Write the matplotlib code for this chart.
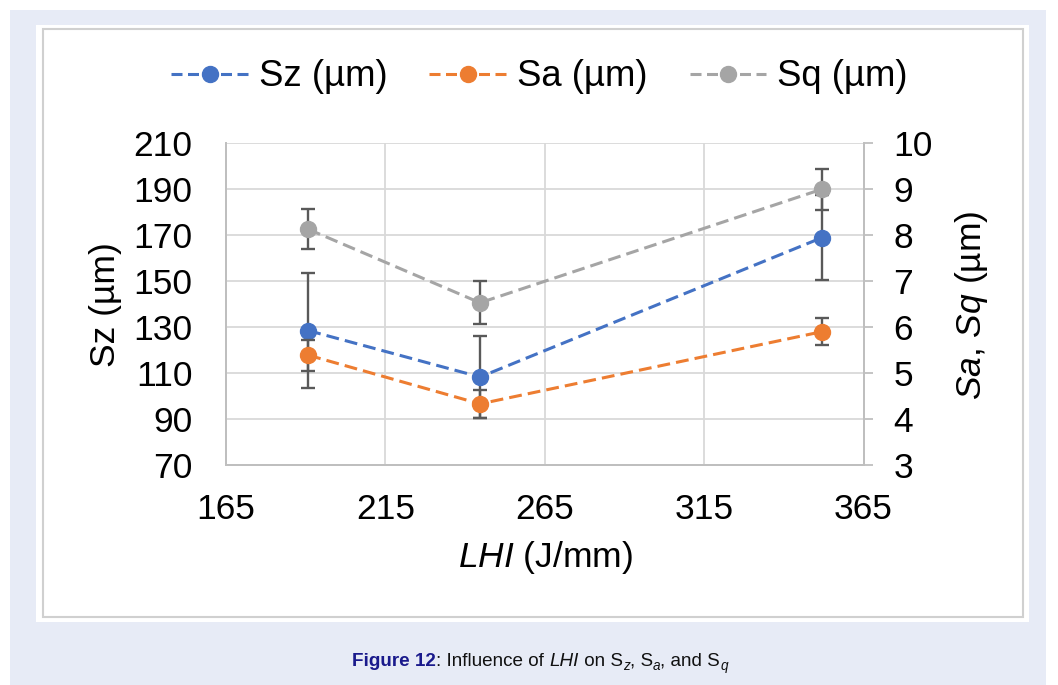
import matplotlib
matplotlib.use("Agg")
import matplotlib.pyplot as plt
from matplotlib.patches import Rectangle
from matplotlib.lines import Line2D
from matplotlib.transforms import IdentityTransform
from matplotlib import font_manager

# ---------------- data ----------------
lhi = [190.8, 244.7, 351.9]
sz = [128.5, 108.3, 168.9]
sz_err = [24.9, 17.8, 18.4]
sa = [5.39, 4.33, 5.90]
sa_err = [0.34, 0.30, 0.29]
sq = [8.13, 6.53, 9.00]
sq_err = [0.44, 0.47, 0.45]
series_names = ["Sz (µm)", "Sa (µm)", "Sq (µm)"]
x_ticks = [165, 215, 265, 315, 365]
left_ticks = [70, 90, 110, 130, 150, 170, 190, 210]
right_ticks = [3, 4, 5, 6, 7, 8, 9, 10]

# ---------------- style ----------------
FONT = "Liberation Sans"
names = {f.name for f in font_manager.fontManager.ttflist}
CAP_FONT = "Liberation Sans Narrow" if "Liberation Sans Narrow" in names else FONT
plt.rcParams["font.family"] = [FONT, "DejaVu Sans"]
plt.rcParams["mathtext.fontset"] = "custom"
plt.rcParams["mathtext.rm"] = FONT
plt.rcParams["mathtext.it"] = FONT + ":italic"
plt.rcParams["mathtext.bf"] = FONT + ":bold"

BLUE = "#4472C4"
ORANGE = "#ED7D31"
GRAY = "#A5A5A5"
ERR = "#595959"
GRID = "#D9D9D9"
SPINE = "#BFBFBF"
FS = 25.5
LFS = 26.3

W, H = 1058, 685
fig = plt.figure(figsize=(W / 100, H / 100), dpi=100)
fig.patch.set_facecolor("white")

def px_rect(x0, y0, x1, y1, **kw):
    # image coords (top-left origin) -> display pixels
    return Rectangle((x0, H - y1), x1 - x0, y1 - y0, transform=IdentityTransform(), **kw)

fig.patches.append(px_rect(10, 10, 1046, 686, facecolor="#E7EBF6", edgecolor="none", zorder=-10))
fig.patches.append(px_rect(36, 25, 1029, 622, facecolor="white", edgecolor="none", zorder=-9))
fig.patches.append(px_rect(43, 29, 1023, 617, facecolor="none", edgecolor="#D0D0D0", lw=1.5, zorder=-8))

L, R, T, B = 226, 863.5, 143.3, 465
ax = fig.add_axes([L / W, 1 - B / H, (R - L) / W, (B - T) / H])
ax.set_facecolor("none")
ax2 = ax.twinx()

ax.set_xlim(165, 365)
ax.set_ylim(70, 210)
ax2.set_ylim(3, 10)
ax.set_xticks(x_ticks)
ax.set_yticks(left_ticks)
ax2.set_yticks(right_ticks)

ax.grid(True, color=GRID, lw=1.3, zorder=0)
ax.set_axisbelow(True)

for a in (ax, ax2):
    for s in a.spines.values():
        s.set_color(SPINE)
        s.set_linewidth(1.3)
    a.spines["top"].set_visible(False)

ax.tick_params(axis="y", length=0, pad=24, labelsize=FS, labelcolor="black")
ax.tick_params(axis="x", length=0, pad=20, labelsize=FS, labelcolor="black")
ax2.tick_params(axis="y", length=6.5, width=1.3, color=SPINE, pad=15, labelsize=FS,
                labelcolor="black", direction="out")

ls = (0, (4.2, 2))
lw = 2.2
ms = 11.5
ekw = dict(fmt="none", ecolor=ERR, elinewidth=1.7, capsize=5, capthick=1.7)

ax.errorbar(lhi, sz, yerr=sz_err, zorder=2, **ekw)
ax.plot(lhi, sz, color=BLUE, ls=ls, lw=lw, marker="o", ms=ms, zorder=3)

ax2.errorbar(lhi, sa, yerr=sa_err, zorder=2, **ekw)
ax2.errorbar(lhi, sq, yerr=sq_err, zorder=2, **ekw)
ax2.plot(lhi, sa, color=ORANGE, ls=ls, lw=lw, marker="o", ms=ms, zorder=3)
ax2.plot(lhi, sq, color=GRAY, ls=ls, lw=lw, marker="o", ms=ms, zorder=3)

# axis labels
fig.text(545 / W, 1 - 557 / H, r"$\mathit{LHI}$ (J/mm)", ha="center", va="center", fontsize=FS)
fig.text(105 / W, 1 - 305 / H, "Sz (µm)", ha="center", va="center", rotation=90, fontsize=FS)
fig.text(971 / W, 1 - 305 / H, r"$\mathit{Sa}$, $\mathit{Sq}$ (µm)", ha="center", va="center",
         rotation=90, fontsize=FS)

# legend
handles = [Line2D([], [], color=c, ls=(0, (3.6, 1.8)), lw=lw, marker="o", ms=ms)
           for c in (BLUE, ORANGE, GRAY)]
fig.legend(handles, series_names, loc="center", bbox_to_anchor=(539.5 / W, 1 - 77 / H), ncol=3,
           frameon=False, fontsize=LFS, handlelength=2.1, handletextpad=0.3, columnspacing=1.15,
           numpoints=1, borderpad=0)

# caption (pieces)
fig.canvas.draw()
renderer = fig.canvas.get_renderer()
CS = 13.6
pieces = [
    ("Figure 12", dict(weight="bold", color="#1A1A8C", size=CS), 0),
    (": Influence of ", dict(size=CS), 0),
    ("LHI", dict(style="italic", size=CS), 0),
    (" on S", dict(size=CS), 0),
    ("z", dict(style="italic", size=CS * 0.72), -4),
    (", S", dict(size=CS), 0),
    ("a", dict(style="italic", size=CS * 0.72), -4),
    (", and S", dict(size=CS), 0),
    ("q", dict(style="italic", size=CS * 0.72), -4),
]
cy = H - 666
texts = []
widths = []
for s, kw, dy in pieces:
    t = fig.text(0, 0, s, transform=IdentityTransform(), ha="left", va="baseline",
                 family=[CAP_FONT, "DejaVu Sans"], color=kw.get("color", "#111111"),
                 fontsize=kw["size"], fontweight=kw.get("weight", "normal"),
                 fontstyle=kw.get("style", "normal"))
    texts.append((t, dy))
    widths.append(t.get_window_extent(renderer).width)
total = sum(widths)
x = 540 - total / 2
for (t, dy), w in zip(texts, widths):
    t.set_position((x, cy + dy))
    x += w

fig.savefig("out.png", dpi=100)
